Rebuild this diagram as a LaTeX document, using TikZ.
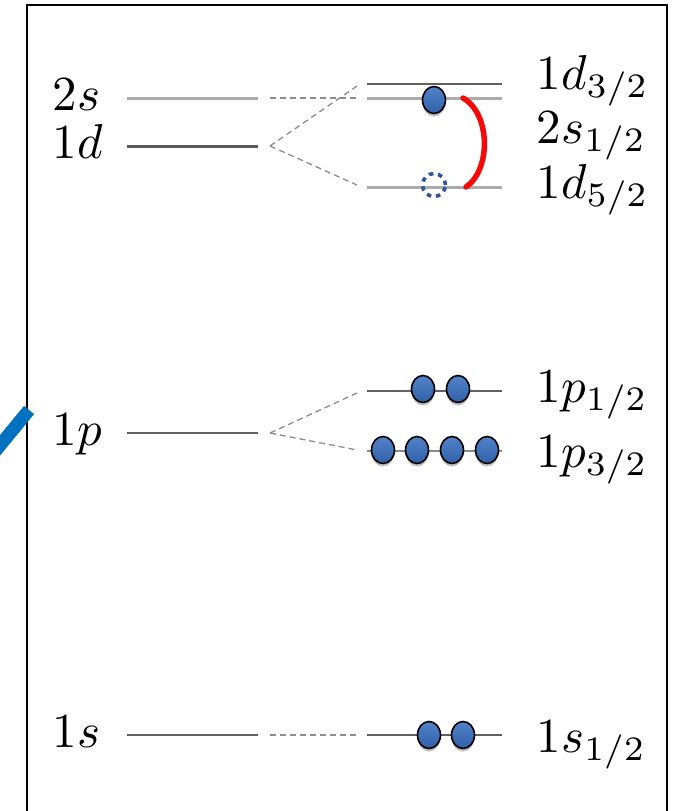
\documentclass[tikz,border=0pt]{standalone}
\usetikzlibrary{shapes.geometric,shadows}
\definecolor{eblueTop}{RGB}{82,130,200}
\definecolor{eblueBot}{RGB}{48,96,168}
\definecolor{holeblue}{RGB}{47,85,151}
\definecolor{slashblue}{RGB}{0,112,192}
\definecolor{arcred}{RGB}{245,10,10}
\begin{document}
\begin{tikzpicture}[x=1pt,y=-1pt,
  lab/.style={anchor=base west, inner sep=0pt, scale=4.9},
  lvdark/.style={draw=black!62, line width=1.6pt},
  lvdarkthick/.style={draw=black!65, line width=3pt},
  lvlight/.style={draw=black!33, line width=3pt},
  lvmid/.style={draw=black!45, line width=2.4pt},
  splitline/.style={draw=black!45, dash pattern=on 6pt off 4pt, line width=1.3pt},
  electron/.style={ellipse, minimum width=23pt, minimum height=27pt, inner sep=0pt,
    draw=black, line width=1.6pt, top color=eblueTop, bottom color=eblueBot,
    drop shadow={shadow xshift=0pt, shadow yshift=-3pt, opacity=0.25, fill=black}},
  hole/.style={circle, minimum size=23pt, inner sep=0pt, draw=holeblue,
    dash pattern=on 4.5pt off 4.8pt, line width=3.6pt}
]
\useasboundingbox (0,0) rectangle (677,811);
\clip (0,0) rectangle (677,811);

% frame and blue slash
\draw[line width=2.6pt, line join=miter] (27,840) -- (27,5) -- (667,5) -- (667,840);
\draw[slashblue, line width=13pt] (-12,460) -- (29,410);

% ---- coordinates of levels
\foreach \n/\y in {s2/98, d1/146, p1/433, s1/735}{
  \coordinate (L\n a) at (127,\y);
  \coordinate (L\n b) at (258,\y);
  \coordinate (L\n c) at (270,\y);
}
\foreach \n/\y in {d32/84, s12/98, d52/187, p12/391, p32/451, s12b/735}{
  \coordinate (R\n a) at (367,\y);
  \coordinate (R\n b) at (502,\y);
  \coordinate (R\n d) at (357,\y);
}

% left levels
\draw[lvlight] (Ls2a) -- (Ls2b);
\draw[lvdarkthick] (Ld1a) -- (Ld1b);
\draw[lvdark] (Lp1a) -- (Lp1b);
\draw[lvdark] (Ls1a) -- (Ls1b);

% right levels
\draw[lvdark] (Rd32a) -- (Rd32b);
\draw[lvlight] (Rs12a) -- (Rs12b);
\draw[lvlight] (Rd52a) -- (Rd52b);
\draw[lvdark] (Rp12a) -- (Rp12b);
\draw[lvmid] (Rp32a) -- (Rp32b);
\draw[lvdark] (Rs12ba) -- (Rs12bb);

% splitting connectors
\draw[splitline] (Ls2c) -- (Rs12d);
\draw[splitline] (Ld1c) -- (357,86);
\draw[splitline] (Ld1c) -- (357,185);
\draw[splitline] (Lp1c) -- (357,393);
\draw[splitline] (Lp1c) -- (357,450);
\draw[splitline] (Ls1c) -- (Rs12bd);

% electrons
\node[electron] (e1) at (434,100) {};
\node[hole] (h1) at (434,185) {};
\node[electron] (e2) at (423,389) {};
\node[electron] (e3) at (458,389) {};
\node[electron] (e4) at (383,450) {};
\node[electron] (e5) at (417,450) {};
\node[electron] (e6) at (452,450) {};
\node[electron] (e7) at (487,450) {};
\node[electron] (e8) at (429,735) {};
\node[electron] (e9) at (463,735) {};

% excitation arc
\coordinate (a1) at (463,98);
\coordinate (a2) at (466,187);
\draw[arcred, line width=5.5pt, line cap=round] (a1) .. controls (491,114) and (491,170) .. (a2);

% labels
\node[lab] (t2s) at (52,110) {$2s$};
\node[lab] (t1d) at (52,158) {$1d$};
\node[lab] (t1p) at (52,445) {$1p$};
\node[lab] (t1s) at (52,747) {$1s$};
\node[lab] (r1) at (536,89) {$1d_{3/2}$};
\node[lab] (r2) at (536,143) {$2s_{1/2}$};
\node[lab] (r3) at (536,198) {$1d_{5/2}$};
\node[lab] (r4) at (536,402) {$1p_{1/2}$};
\node[lab] (r5) at (536,467) {$1p_{3/2}$};
\node[lab] (r6) at (536,752) {$1s_{1/2}$};
\end{tikzpicture}
\end{document}
